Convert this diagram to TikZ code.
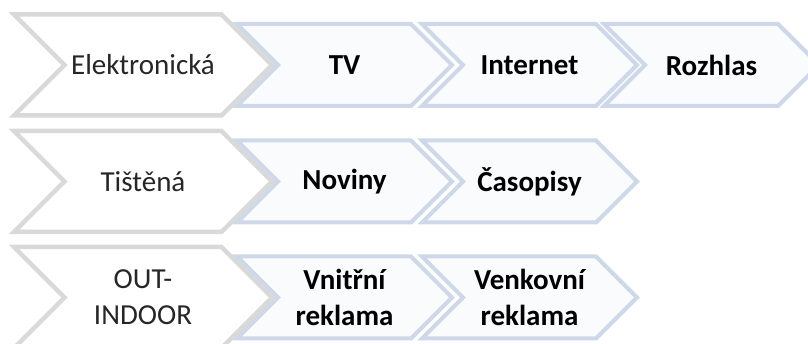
\documentclass[tikz,border=0pt]{standalone}
\usepackage{fontspec}
\setmainfont{Carlito}
\usetikzlibrary{shapes.symbols}

\definecolor{chevgray}{RGB}{217,217,217}
\definecolor{chevblue}{RGB}{206,216,232}
\definecolor{chevfill}{RGB}{250,251,253}
\definecolor{labelgray}{RGB}{38,38,38}

\tikzset{
  typebox/.style={signal, signal from=west, signal to=east, draw=chevgray,
    line width=4.5pt, fill=white, minimum width=258pt, minimum height=101pt,
    inner sep=0pt, align=center, text=labelgray, font=\fontsize{29}{36}\selectfont},
  mediabox/.style={signal, signal from=west, signal to=east, draw=chevblue,
    line width=4pt, fill=chevfill, minimum width=215pt, minimum height=82pt,
    inner sep=0pt, align=center, text=black, font=\bfseries\fontsize{29}{36}\selectfont},
}

\begin{document}
\begin{tikzpicture}[x=1pt, y=-1pt]
    \useasboundingbox (0,0) rectangle (808,344);
    \clip (0,0) rectangle (808,344);

    % Media (right to left)
    \node[mediabox] (rozhlas) at (711.5,65) {Rozhlas};
    \node[mediabox] (internet) at (529.5,65) {Internet};
    \node[mediabox] (tv) at (344.5,65) {TV};

    \node[mediabox] (casopisy) at (529.5,181.5) {Časopisy};
    \node[mediabox] (noviny) at (344.5,181.5) {Noviny};

    \node[mediabox] (venkovni) at (529.5,297.5) {Venkovní\\reklama};
    \node[mediabox] (vnitrni) at (344.5,297.5) {Vnitřní\\reklama};

    % Types
    \node[typebox] (elektro) at (143,65) {Elektronická};
    \node[typebox] (tistena) at (143,181.5) {Tištěná};
    \node[typebox] (outdoor) at (143,297.5) {OUT-\\INDOOR};
\end{tikzpicture}
\end{document}
